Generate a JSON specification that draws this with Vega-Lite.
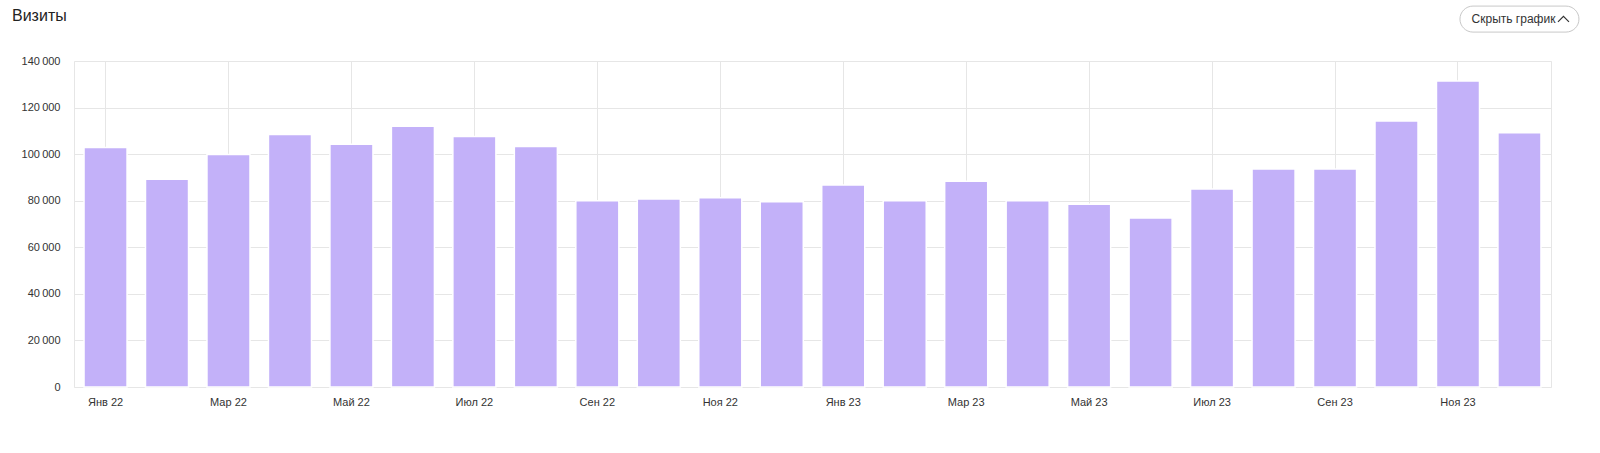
{
  "$schema": "https://vega.github.io/schema/vega-lite/v6.json",
  "autosize": {"type": "none"},
  "padding": {"left": 74, "top": 61, "right": 49, "bottom": 66},
  "width": 1477,
  "height": 326,
  "background": "#ffffff",
  "config": {
    "font": "Arial, Liberation Sans, sans-serif",
    "view": {"stroke": "#e6e6e6", "strokeWidth": 1}
  },
  "title": {
    "text": "Визиты",
    "anchor": "start",
    "frame": "group",
    "dx": -62,
    "offset": -20,
    "fontSize": 16,
    "fontWeight": "normal",
    "color": "#222222",
    "font": "Arial, Liberation Sans, sans-serif"
  },
  "datasets": {
    "visits": [
      {"month": "Янв 22", "visits": 102900},
      {"month": "Фев 22", "visits": 89200},
      {"month": "Мар 22", "visits": 99900},
      {"month": "Апр 22", "visits": 108400},
      {"month": "Май 22", "visits": 104200},
      {"month": "Июн 22", "visits": 112000},
      {"month": "Июл 22", "visits": 107600},
      {"month": "Авг 22", "visits": 103300},
      {"month": "Сен 22", "visits": 80000},
      {"month": "Окт 22", "visits": 80700},
      {"month": "Ноя 22", "visits": 81300},
      {"month": "Дек 22", "visits": 79600},
      {"month": "Янв 23", "visits": 86700},
      {"month": "Фев 23", "visits": 80000},
      {"month": "Мар 23", "visits": 88400},
      {"month": "Апр 23", "visits": 80000},
      {"month": "Май 23", "visits": 78500},
      {"month": "Июн 23", "visits": 72600},
      {"month": "Июл 23", "visits": 85000},
      {"month": "Авг 23", "visits": 93600},
      {"month": "Сен 23", "visits": 93600},
      {"month": "Окт 23", "visits": 114200},
      {"month": "Ноя 23", "visits": 131400},
      {"month": "Дек 23", "visits": 109200}
    ],
    "button": [
      {"month": "Дек 23", "visits": 158000, "label": "Скрыть график"}
    ]
  },
  "layer": [
    {
      "data": {"name": "visits"},
      "mark": {"type": "bar", "color": "#c3b1f9", "stroke": "#ffffff", "strokeWidth": 1.5},
      "encoding": {
        "x": {
          "field": "month",
          "type": "nominal",
          "sort": null,
          "scale": {"paddingInner": 0.3, "paddingOuter": 0.163},
          "axis": {
            "title": null,
            "values": ["Янв 22", "Мар 22", "Май 22", "Июл 22", "Сен 22", "Ноя 22", "Янв 23", "Мар 23", "Май 23", "Июл 23", "Сен 23", "Ноя 23"],
            "bandPosition": 0.5,
            "grid": true,
            "gridColor": "#e6e6e6",
            "gridWidth": 1,
            "ticks": false,
            "domain": false,
            "labelAngle": 0,
            "labelFontSize": 11,
            "labelColor": "#333333",
            "labelPadding": 9
          }
        },
        "y": {
          "field": "visits",
          "type": "quantitative",
          "scale": {"domain": [0, 140000], "nice": false},
          "axis": {
            "title": null,
            "values": [0, 20000, 40000, 60000, 80000, 100000, 120000, 140000],
            "labelExpr": "replace(format(datum.value, ','), /,/g, '\u2009')",
            "grid": true,
            "gridColor": "#e6e6e6",
            "gridWidth": 1,
            "ticks": false,
            "domain": false,
            "labelFontSize": 11,
            "labelColor": "#333333",
            "labelPadding": 14
          }
        }
      }
    },
    {
      "data": {"name": "button"},
      "mark": {
        "type": "point",
        "clip": false,
        "shape": "M-0.7686,-0.2149 L0.7686,-0.2149 A0.2149,0.2149 0 0 1 0.7686,0.2149 L-0.7686,0.2149 A0.2149,0.2149 0 0 1 -0.7686,-0.2149 Z",
        "size": 14641,
        "filled": true,
        "fill": "#ffffff",
        "stroke": "#c8c8c8",
        "strokeWidth": 1,
        "opacity": 1
      },
      "encoding": {
        "x": {"field": "month", "type": "nominal", "sort": null},
        "y": {"field": "visits", "type": "quantitative"}
      }
    },
    {
      "data": {"name": "button"},
      "mark": {"type": "text", "clip": false, "align": "center", "baseline": "middle", "dx": -6, "fontSize": 12, "color": "#333333"},
      "encoding": {
        "x": {"field": "month", "type": "nominal", "sort": null},
        "y": {"field": "visits", "type": "quantitative"},
        "text": {"field": "label"}
      }
    },
    {
      "data": {"name": "button"},
      "mark": {
        "type": "point",
        "clip": false,
        "shape": "M-1,0.5 L0,-0.5 L1,0.5",
        "size": 121,
        "filled": false,
        "stroke": "#333333",
        "strokeWidth": 1.2,
        "opacity": 1,
        "xOffset": 44
      },
      "encoding": {
        "x": {"field": "month", "type": "nominal", "sort": null},
        "y": {"field": "visits", "type": "quantitative"}
      }
    }
  ]
}
